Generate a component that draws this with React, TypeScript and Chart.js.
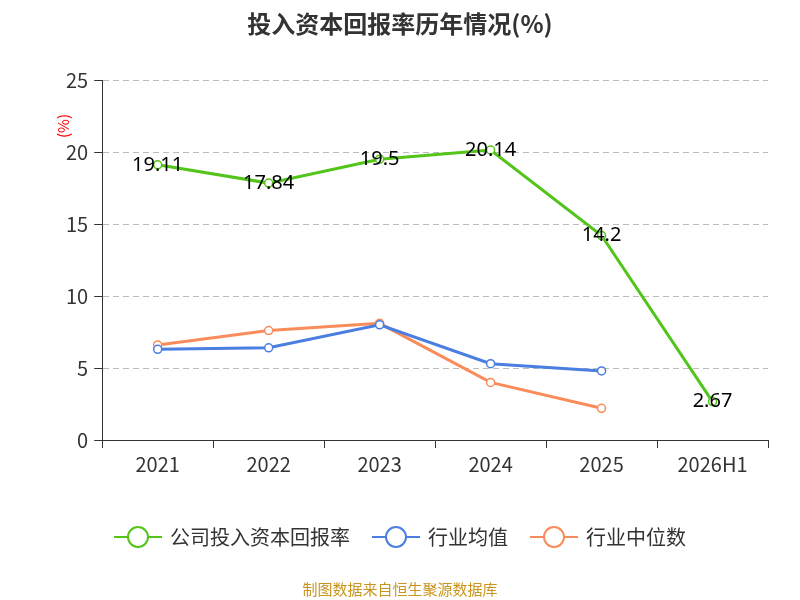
import React, { useEffect, useRef } from "react";
import { Chart, registerables } from "chart.js";
Chart.register(...registerables);

const categories = ["2021", "2022", "2023", "2024", "2025", "2026H1"];
const companyValues = [19.11, 17.84, 19.5, 20.14, 14.2, 2.67];
const industryAvg = [6.3, 6.4, 8.0, 5.3, 4.8, null];
const industryMedian = [6.6, 7.6, 8.1, 4.0, 2.2, null];
const seriesNames = ["公司投入资本回报率", "行业均值", "行业中位数"];
const colors = ["#52c41a", "#4a7ee0", "#f98c5a"];
const font = "'Noto Sans CJK SC', 'Noto Sans', sans-serif";

const decoPlugin = {
  id: "deco",
  afterDatasetsDraw(chart: any) {
    const ctx = chart.ctx;
    const meta = chart.getDatasetMeta(0);
    ctx.save();
    ctx.font = "20px 'Noto Sans', sans-serif";
    ctx.fillStyle = "#000";
    ctx.textAlign = "center";
    ctx.textBaseline = "middle";
    meta.data.forEach((p: any, i: number) => ctx.fillText(String(companyValues[i]), p.x, p.y));
    // title
    ctx.font = `bold 24px ${font}`;
    ctx.fillStyle = "#333";
    ctx.fillText("投入资本回报率历年情况(%)", 392, 16);
    // y title
    ctx.save();
    ctx.translate(55, 118);
    ctx.rotate(-Math.PI / 2);
    ctx.font = `15px ${font}`;
    ctx.fillStyle = "red";
    ctx.fillText("(%)", 0, 0);
    ctx.restore();
    // legend
    ctx.font = `20px ${font}`;
    ctx.textAlign = "left";
    const widths = seriesNames.map((n) => ctx.measureText(n).width);
    const gap = 22;
    const total = widths.reduce((a, w) => a + 48 + 8 + w, 0) + gap * 2;
    let x = 392 - total / 2;
    const y = 529;
    seriesNames.forEach((n, i) => {
      ctx.strokeStyle = colors[i];
      ctx.lineWidth = 2;
      ctx.beginPath();
      ctx.moveTo(x, y);
      ctx.lineTo(x + 48, y);
      ctx.stroke();
      ctx.beginPath();
      ctx.arc(x + 24, y, 10, 0, Math.PI * 2);
      ctx.fillStyle = "#fff";
      ctx.fill();
      ctx.stroke();
      ctx.fillStyle = "#333";
      ctx.fillText(n, x + 56, y);
      x += 56 + widths[i] + gap;
    });
    ctx.textAlign = "center";
    ctx.font = `15px ${font}`;
    ctx.fillStyle = "#c8961e";
    ctx.fillText("制图数据来自恒生聚源数据库", 392, 581);
    ctx.restore();
  },
};

export default function App() {
  const ref = useRef<HTMLCanvasElement>(null);
  useEffect(() => {
    const mk = (i: number, data: any[]) => ({
      label: seriesNames[i], data, borderColor: colors[i], backgroundColor: "#fff",
      borderWidth: 3, pointRadius: 4, pointBorderWidth: 1.5, tension: 0,
    });
    const chart = new Chart(ref.current!, {
      type: "line",
      data: { labels: categories, datasets: [mk(0, companyValues), mk(1, industryAvg), mk(2, industryMedian)] },
      options: {
        animation: false,
        responsive: false,
        layout: { padding: { left: 52, right: 24, top: 72, bottom: 120 } },
        plugins: { legend: { display: false }, tooltip: { enabled: false }, title: { display: false } },
        scales: {
          x: {
            offset: true,
            grid: { display: true, drawOnChartArea: false, offset: true, tickLength: 8, color: "#333" },
            border: { color: "#333" },
            ticks: { font: { size: 20, family: font }, color: "#333", padding: 4 },
          },
          y: {
            min: 0, max: 25,
            ticks: { stepSize: 5, font: { size: 20, family: font }, color: "#333", padding: 6 },
            grid: { color: "#bbb", tickLength: 8, tickColor: "#333" },
            border: { color: "#333", dash: [6, 4] },
          },
        },
      },
      plugins: [decoPlugin],
    });
    return () => chart.destroy();
  }, []);
  return <canvas ref={ref} width={784} height={592} style={{ display: "block" }} />;
}
